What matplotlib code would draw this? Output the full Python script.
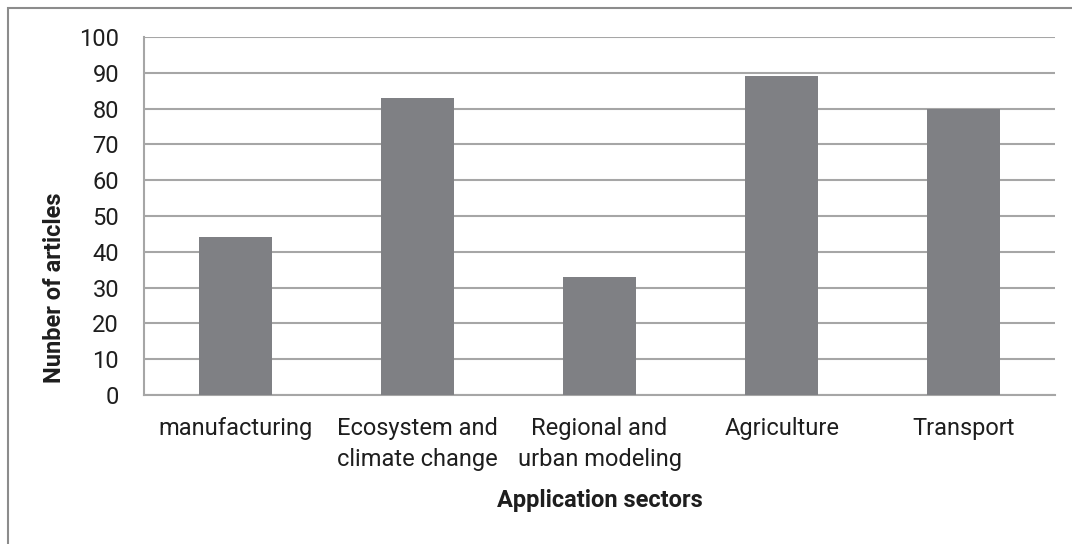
import matplotlib

matplotlib.use("Agg")
import matplotlib.pyplot as plt
from matplotlib.patches import Rectangle

sectors = [
    "manufacturing",
    "Ecosystem and\nclimate change",
    "Regional and\nurban modeling",
    "Agriculture",
    "Transport",
]
articles = [44, 83, 33, 89, 80]
y_ticks = list(range(0, 101, 10))

BAR_COLOR = "#7f8084"
GRID_COLOR = "#a6a6a6"
TEXT_COLOR = "#1e1e1e"

plt.rcParams["font.family"] = ["Roboto", "DejaVu Sans"]

fig = plt.figure(figsize=(10.72, 5.44), dpi=100)
ax = fig.add_axes([144 / 1072, 1 - 395 / 544, (1055 - 144) / 1072, (395 - 37) / 544])

x = list(range(len(sectors)))
ax.bar(x, articles, width=0.4, color=BAR_COLOR, zorder=3)

ax.set_xlim(-0.5, len(sectors) - 0.5)
ax.set_ylim(0, 100)
ax.set_yticks(y_ticks)
ax.set_xticks(x)
ax.set_xticklabels(sectors, linespacing=1.45)
ax.tick_params(axis="both", length=0, labelsize=17, labelcolor=TEXT_COLOR)
ax.tick_params(axis="y", pad=18)
ax.tick_params(axis="x", pad=16)
ax.grid(axis="y", color=GRID_COLOR, linewidth=1.5, zorder=0)

for side in ["top", "right"]:
    ax.spines[side].set_visible(False)
for side in ["left", "bottom"]:
    ax.spines[side].set_color(GRID_COLOR)
    ax.spines[side].set_linewidth(1.5)

fig.text(55 / 1072, 1 - 288 / 544, "Nunber of articles", rotation=90, ha="center", va="center",
         fontsize=17, fontweight="bold", color=TEXT_COLOR)
fig.text(600 / 1072, 1 - 500 / 544, "Application sectors", ha="center", va="center",
         fontsize=17, fontweight="bold", color=TEXT_COLOR)

# outer chart frame (runs off the right and bottom edges)
fig.patches.append(Rectangle((8 / 1072, -0.1), 1.2, 1 - 8 / 544 + 0.1, transform=fig.transFigure,
                             fill=False, edgecolor="#8c8c8c", linewidth=1.5))

fig.savefig("out.png", dpi=100)
